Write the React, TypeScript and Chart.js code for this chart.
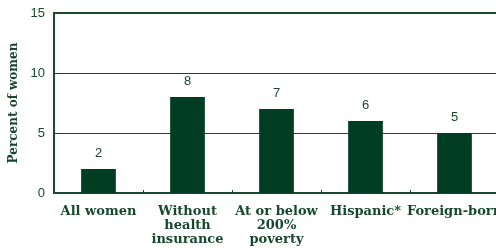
import React, { useEffect, useRef } from "react";
import { Chart, registerables } from "chart.js";

Chart.register(...registerables);

const categories: string[][] = [
  ["All women"],
  ["Without", "health", "insurance"],
  ["At or below", "200%", "poverty"],
  ["Hispanic*"],
  ["Foreign-born"],
];
const values: number[] = [2, 8, 7, 6, 5];
const yTicks: number[] = [0, 5, 10, 15];

const BAR = "#003d23";
const TEXT = "#17472f";
const LINE = "#1b4a32";

const labelPlugin = {
  id: "valueLabels",
  afterDatasetsDraw(chart: any) {
    const { ctx } = chart;
    const meta = chart.getDatasetMeta(0);
    ctx.save();
    ctx.fillStyle = TEXT;
    ctx.font = "13px 'Liberation Sans', Arial, sans-serif";
    ctx.textAlign = "center";
    ctx.textBaseline = "middle";
    meta.data.forEach((bar: any, i: number) => {
      ctx.fillText(String(values[i]), bar.x, bar.y - 16);
    });
    ctx.restore();
  },
  afterDraw(chart: any) {
    const { ctx } = chart;
    const xs = chart.scales.x;
    const bottom = chart.chartArea.bottom;
    ctx.save();
    ctx.strokeStyle = LINE;
    ctx.lineWidth = 1;
    for (let i = 1; i <= categories.length; i++) {
      const x = Math.round(xs.getPixelForValue(i - 0.5)) + 0.5;
      ctx.beginPath();
      ctx.moveTo(x, bottom - 3);
      ctx.lineTo(x, bottom);
      ctx.stroke();
    }
    ctx.restore();
  },
};

export default function App() {
  const ref = useRef<HTMLCanvasElement | null>(null);
  useEffect(() => {
    if (!ref.current) return;
    const chart = new Chart(ref.current, {
      type: "bar",
      data: {
        labels: categories,
        datasets: [
          {
            data: values,
            backgroundColor: BAR,
            borderWidth: 0,
            barPercentage: 0.39,
            categoryPercentage: 1,
          },
        ],
      },
      options: {
        responsive: false,
        animation: false,
        devicePixelRatio: 1,
        layout: { padding: { top: 13, left: 0, right: 11, bottom: 0 } },
        plugins: {
          legend: { display: false },
          tooltip: { enabled: false },
        },
        scales: {
          x: {
            offset: true,
            grid: { display: false, drawTicks: false },
            border: { display: true, color: LINE, width: 2 },
            ticks: {
              color: TEXT,
              font: { family: "'DejaVu Serif', serif", size: 13, weight: "bold", lineHeight: 1.1 },
              padding: 11,
              maxRotation: 0,
              minRotation: 0,
              autoSkip: false,
            },
            afterFit: (s: any) => {
              s.height = 55;
              s.paddingLeft = 0;
              s.paddingRight = 0;
            },
          },
          y: {
            min: 0,
            max: 15,
            afterBuildTicks: (s: any) => {
              s.ticks = yTicks.map((v) => ({ value: v }));
            },
            grid: {
              drawTicks: false,
              color: LINE,
              lineWidth: (c: any) => (c.tick && c.tick.value === 15 ? 2 : c.tick && c.tick.value === 0 ? 0 : 1),
            },
            border: { display: true, color: LINE, width: 2 },
            ticks: {
              color: TEXT,
              font: { family: "'Liberation Sans', Arial, sans-serif", size: 13 },
              padding: 9,
            },
            title: {
              display: true,
              text: "Percent of women",
              color: TEXT,
              font: { family: "'DejaVu Serif', serif", size: 12, weight: "bold" },
              padding: { top: 7, bottom: 0 },
            },
            afterFit: (s: any) => {
              s.width = 54;
              s.paddingTop = 0;
              s.paddingBottom = 0;
            },
          },
        },
      },
      plugins: [labelPlugin],
    });
    return () => chart.destroy();
  }, []);
  return (
    <div
      style={{
        position: "fixed",
        left: 0,
        top: 0,
        width: 496,
        height: 248,
        overflow: "hidden",
        background: "#fff",
      }}
    >
      <canvas ref={ref} width={510} height={248} style={{ width: 510, height: 248, display: "block" }} />
    </div>
  );
}
